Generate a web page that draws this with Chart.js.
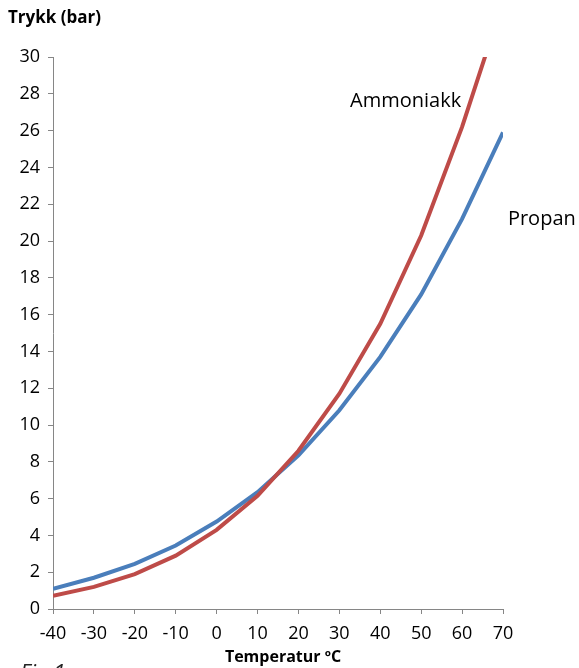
<!DOCTYPE html>
<html>
<head>
<meta charset="utf-8">
<script src="https://cdn.jsdelivr.net/npm/chart.js@4/dist/chart.umd.min.js"></script>
<style>
  html, body { margin: 0; padding: 0; background: #fff; }
  #wrap { width: 579px; height: 668px; position: relative; }
</style>
</head>
<body>
<div id="wrap"><canvas id="trykkChart"></canvas></div>
<script>
// temperature (C) and vapour pressure (bar)
const temps = [-40, -30, -20, -10, 0, 10, 20, 30, 40, 50, 60, 70]
const propan = [1.1, 1.7, 2.45, 3.45, 4.75, 6.35, 8.35, 10.8, 13.7, 17.1, 21.2, 25.9]
const ammoniakk = [0.72, 1.2, 1.9, 2.9, 4.3, 6.15, 8.6, 11.7, 15.5, 20.3, 26.2, 33.0]
const seriesNames = ['Ammoniakk', 'Propan']
// where the series names sit, in data units
const labelSpots = [{ x: 32.6, y: 27.6 }, { x: 71.2, y: 21.2 }]

const axisGray = '#868686'
const font = 'Open Sans'

const toPoints = (vals) => temps.map((t, i) => ({ x: t, y: vals[i] }))

// axis titles, series names and the caption
const textPlugin = {
  id: 'texts',
  afterDraw(chart) {
    const ctx = chart.ctx
    const xs = chart.scales.x, ys = chart.scales.y
    ctx.save()
    ctx.fillStyle = '#000'
    ctx.textBaseline = 'middle'

    ctx.font = 'bold 17px "' + font + '"'
    ctx.textAlign = 'left'
    ctx.fillText('Trykk (bar)', 8, 18)

    ctx.font = 'bold 16px "' + font + '"'
    ctx.textAlign = 'center'
    ctx.fillText('Temperatur ºC', (xs.left + xs.right) / 2 + 5, 657)

    ctx.font = '20px "' + font + '"'
    ctx.textAlign = 'left'
    seriesNames.forEach((name, i) => {
      ctx.fillText(name, xs.getPixelForValue(labelSpots[i].x), ys.getPixelForValue(labelSpots[i].y))
    })

    ctx.font = 'italic 22px "' + font + '"'
    ctx.textBaseline = 'alphabetic'
    ctx.fillStyle = '#222'
    ctx.fillText('Fig 1', 20, 680)
    ctx.restore()
  }
}

const ctx = document.getElementById('trykkChart')
new Chart(ctx, {
  type: 'line',
  data: {
    datasets: [{
      label: seriesNames[0],
      data: toPoints(ammoniakk),
      borderColor: '#BE4B48',
      borderWidth: 4,
      pointRadius: 0
    }, {
      label: seriesNames[1],
      data: toPoints(propan),
      borderColor: '#4A7EBB',
      borderWidth: 4,
      pointRadius: 0
    }]
  },
  options: {
    responsive: true,
    maintainAspectRatio: false,
    animation: false,
    layout: { padding: { left: 0, right: 76, top: 57, bottom: 0 } },
    plugins: { legend: { display: false }, tooltip: { enabled: false } },
    scales: {
      x: {
        type: 'linear',
        min: -40,
        max: 70,
        afterFit: (s) => { s.height = 59 },
        border: { color: axisGray, width: 1 },
        grid: { drawOnChartArea: false, drawTicks: true, tickLength: 5, color: axisGray },
        ticks: { stepSize: 10, color: '#000', padding: 9, maxRotation: 0, font: { family: font, size: 18 } }
      },
      y: {
        min: 0,
        max: 30,
        afterFit: (s) => { s.width = 53 },
        border: { color: axisGray, width: 1 },
        grid: { drawOnChartArea: false, drawTicks: true, tickLength: 5, color: axisGray },
        ticks: { stepSize: 2, color: '#000', padding: 8, font: { family: font, size: 18 } }
      }
    }
  },
  plugins: [textPlugin]
})
</script>
</body>
</html>
